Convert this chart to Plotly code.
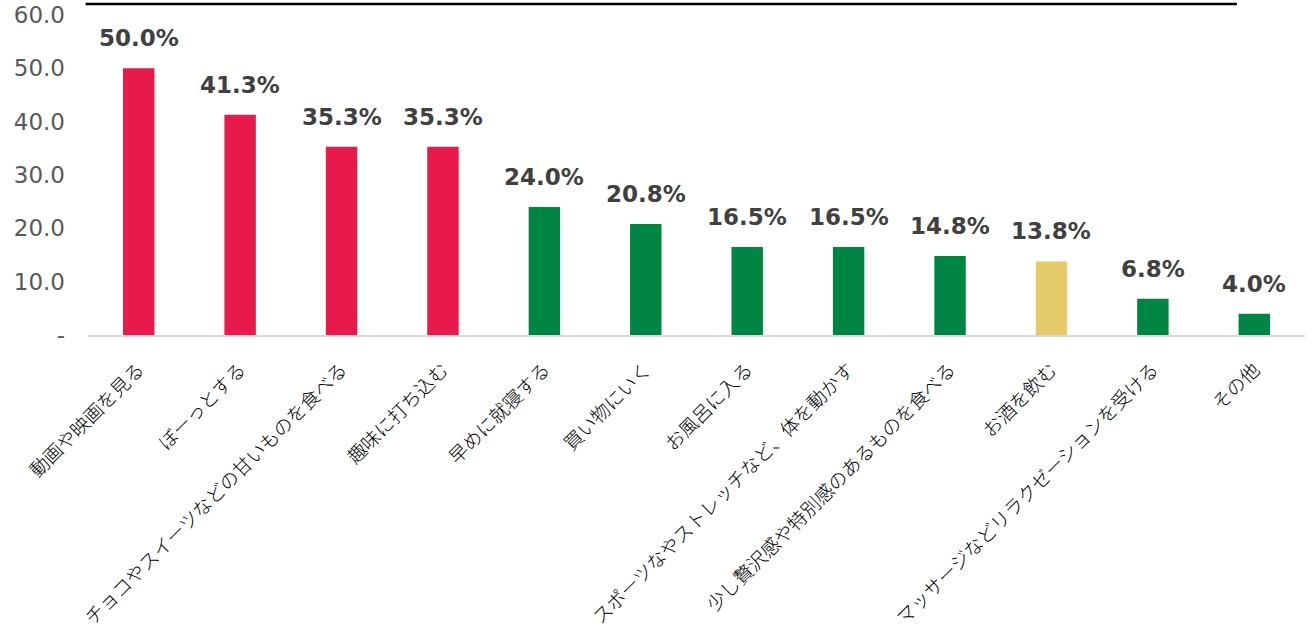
import plotly.graph_objects as go

categories = ["動画や映画を見る", "ぼーっとする", "チョコやスイーツなどの甘いものを食べる", "趣味に打ち込む",
              "早めに就寝する", "買い物にいく", "お風呂に入る", "スポーツなやストレッチなど、体を動かす",
              "少し贅沢感や特別感のあるものを食べる", "お酒を飲む", "マッサージなどリラクゼーションを受ける", "その他"]
values = [50.0, 41.3, 35.3, 35.3, 24.0, 20.8, 16.5, 16.5, 14.8, 13.8, 6.8, 4.0]
groups = ["red", "red", "red", "red", "green", "green", "green", "green", "green", "yellow", "green", "green"]
color_map = {"red": "#E8194B", "green": "#008542", "yellow": "#E6CB6B"}
tick_vals = [0, 10, 20, 30, 40, 50, 60]
tick_text = ["-", "10.0", "20.0", "30.0", "40.0", "50.0", "60.0"]

fig = go.Figure()
fig.add_trace(go.Bar(
    x=categories, y=values,
    marker=dict(color=[color_map[g] for g in groups], line=dict(width=0)),
    width=0.31,
))

for c, v in zip(categories, values):
    fig.add_annotation(x=c, y=v, text=f"<b>{v:.1f}%</b>", showarrow=False,
                       yanchor="bottom", yshift=15,
                       font=dict(family="DejaVu Sans", size=23, color="#404040"))

line_y = (639 - 4 - 304) / 320

fig.update_layout(
    width=1312, height=639,
    margin=dict(l=88, r=7, t=15, b=304, autoexpand=False),
    plot_bgcolor="white", paper_bgcolor="white",
    showlegend=False,
    xaxis=dict(
        tickangle=-45, automargin=False,
        tickfont=dict(family="Noto Sans CJK JP", size=19, color="#000000", weight=300),
        showline=True, linecolor="#D9D9D9", linewidth=2,
        ticks="", showgrid=False, ticklabelstandoff=14,
    ),
    yaxis=dict(
        range=[0, 60], tickvals=tick_vals, ticktext=tick_text,
        tickfont=dict(family="DejaVu Sans", size=23, color="#595959"),
        showgrid=False, zeroline=False, showline=False, ticks="",
        automargin=False, ticklabelstandoff=22,
    ),
    shapes=[dict(type="line", xref="paper", yref="paper", x0=-0.002, x1=0.944,
                 y0=line_y, y1=line_y, line=dict(color="black", width=2.5))],
)
fig.write_html("out.html")
